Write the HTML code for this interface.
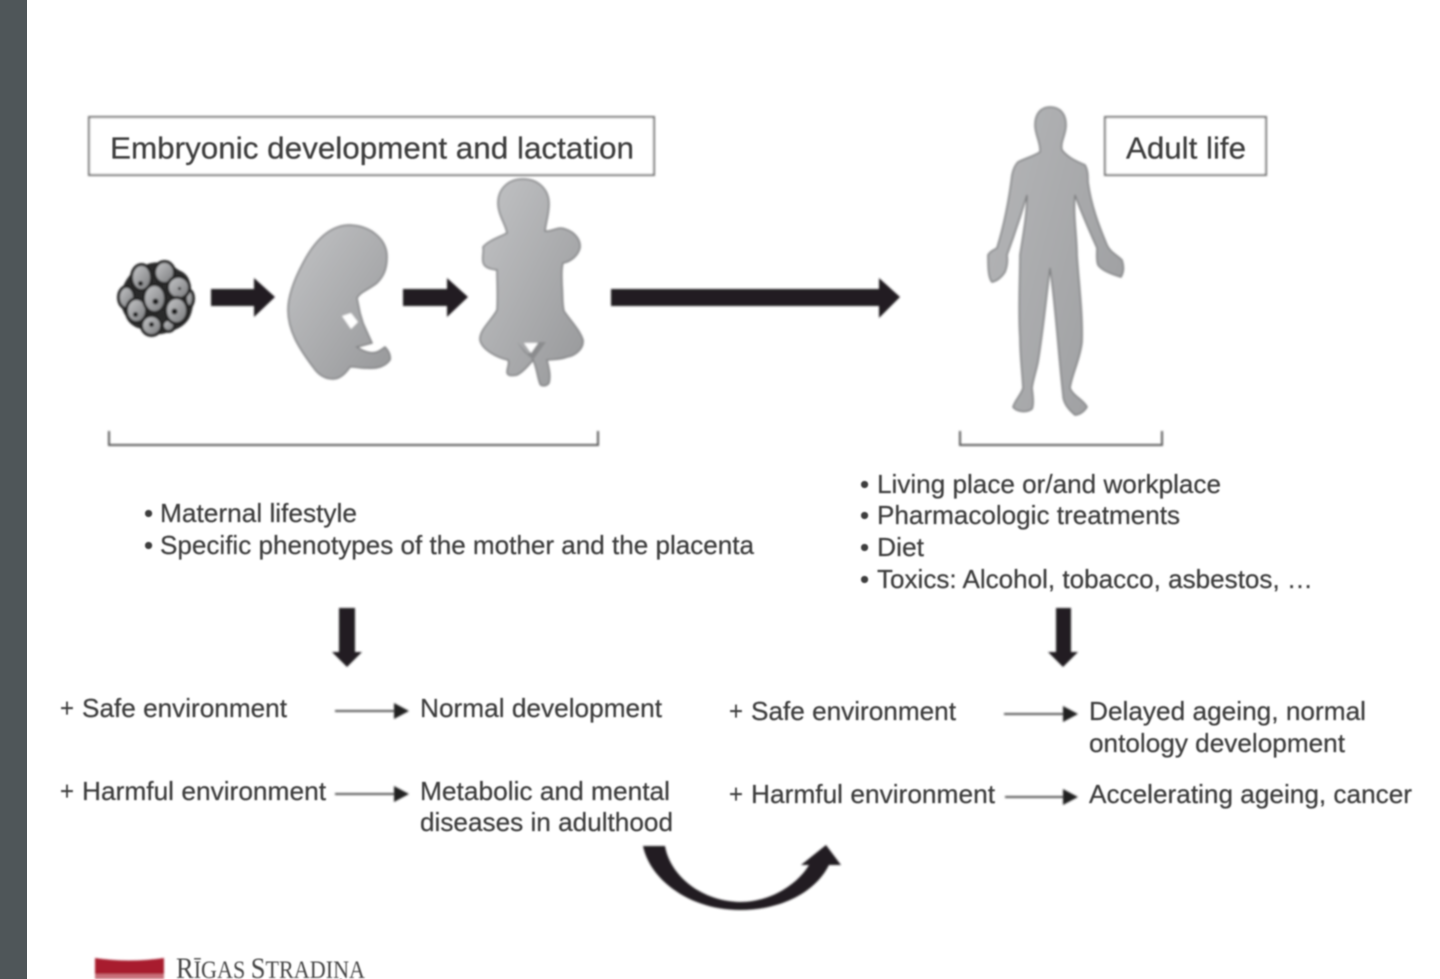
<!DOCTYPE html>
<html><head><meta charset="utf-8"><style>
html,body{margin:0;padding:0;background:#fff;width:1440px;height:979px;overflow:hidden}
svg{display:block}
text{font-family:"Liberation Sans",sans-serif;fill:#3c3c3c;font-size:27px;stroke:#3c3c3c;stroke-width:.25px}
.s{font-size:26px}
</style></head><body>
<svg width="1440" height="979" viewBox="0 0 1440 979" xmlns="http://www.w3.org/2000/svg">
<defs>
<filter id="b" x="-5%" y="-5%" width="110%" height="110%"><feGaussianBlur stdDeviation="1"/></filter>
<filter id="t" x="-5%" y="-20%" width="110%" height="140%"><feGaussianBlur stdDeviation="0.85"/></filter>
<linearGradient id="g" x1="0" y1="0" x2="1" y2="1"><stop offset="0" stop-color="#c2c3c5"/><stop offset="1" stop-color="#97989a"/></linearGradient>
<linearGradient id="a" x1="0" y1="0" x2="1" y2="0.6"><stop offset="0" stop-color="#b5b6b8"/><stop offset="1" stop-color="#a0a1a3"/></linearGradient>
<linearGradient id="c" x1="0" y1="0" x2="1" y2="1"><stop offset="0" stop-color="#c8c9cb"/><stop offset="1" stop-color="#77787a"/></linearGradient>
</defs>
<rect x="0" y="0" width="27" height="979" fill="#4f5659"/>
<g filter="url(#b)">
<rect x="89" y="117" width="565" height="58" fill="#fff" stroke="#6e6e6e" stroke-width="2"/>
<rect x="1105" y="117" width="161" height="58" fill="#fff" stroke="#6e6e6e" stroke-width="2"/>
<path d="M350 225C372 226 387 240 387 257C387 270 383 277 377 283C368 290 360 292 357 298L360 313L363 323L372 343L357 347C364 352 372 354 377 352C380 351 382 349 385 347C389 351 391 356 390 360C385 367 376 369 367 368C360 369 355 366 350 367C346 373 340 379 333 379C323 379 317 373 313 367C298 347 288 330 288 310C288 295 295 278 303 263C315 240 330 225 350 225Z" fill="url(#g)" stroke="#808183" stroke-width="1.5"/>
<path d="M342 316L351 313L358 322L351 329Z" fill="#fff"/>
<path d="M523 179C538 179 549 189 549 204C549 214 546 222 545 231C552 232 558 226 565 229C575 232 581 240 580 248C578 256 570 262 563 263C561 270 562 277 562 285C563 295 562 303 564 311C570 320 580 330 583 340C584 349 575 356 567 357C560 360 553 359 547 360C549 368 551 376 549 383C546 387 541 386 540 384C537 376 537 368 533 360C529 365 523 372 517 375C512 376 507 376 507 372C507 367 510 364 508 360C498 358 482 350 480 340C479 330 492 320 497 310C498 295 497 283 497 270C491 269 484 268 483 262C482 256 484 252 483 247C489 240 500 237 507 233C506 225 498 215 498 203C498 189 508 179 523 179Z" fill="url(#g)" stroke="#808183" stroke-width="1.5"/>
<path d="M517 342L528 354L539 342L546 342L533 360L524 352L519 345Z" fill="#8b8c8e"/>
<path d="M524 343L538 343L531 353Z" fill="#fff"/>
<path d="M1050 107C1061 107 1066 115 1066 125C1066 135 1060 142 1062 150C1068 158 1078 162 1085 165C1088 170 1088 176 1088 182C1091 205 1099 226 1107 245C1110 252 1117 255 1122 260C1124 266 1124 272 1121 277C1114 275 1102 271 1098 265C1096 260 1097 254 1097 248C1089 230 1081 212 1075 195C1073 215 1077 236 1077 255C1079 285 1083 315 1082 342C1080 360 1072 374 1070 388C1073 396 1084 400 1087 407C1084 412 1079 415 1075 415C1069 410 1063 403 1063 395C1058 350 1056 310 1050 268C1046 300 1043 332 1038 362C1036 372 1033 380 1032 388C1033 396 1034 404 1032 409C1026 413 1017 412 1013 407C1015 400 1021 395 1023 388C1022 370 1020 355 1020 338C1018 310 1020 282 1020 255C1023 235 1027 215 1027 195C1021 215 1014 236 1007 255C1008 262 1007 267 1005 272C1002 277 997 281 992 282C988 278 988 265 988 255C990 251 994 250 997 248C1004 225 1009 200 1012 175C1013 170 1015 165 1018 162C1026 158 1034 156 1040 152C1041 143 1035 135 1035 125C1035 115 1040 107 1050 107Z" fill="url(#a)" stroke="#7f8082" stroke-width="1.5"/>
<!-- morula -->
<g transform="translate(1.5 0.5)">
<path d="M155 262C166 261 172 266 178 270C186 273 189 280 189 287C193 296 192 309 188 317C184 325 176 329 168 331C160 335 150 335 143 329C133 328 126 322 124 315C118 306 118 293 122 285C126 276 132 269 142 266C146 263 150 262 155 262Z" fill="#2a2a2a"/>
<g fill="url(#c)" stroke="#262626" stroke-width="3">
<ellipse cx="188" cy="298" rx="4" ry="8"/><ellipse cx="167" cy="325" rx="6" ry="6"/>
<ellipse cx="163" cy="272" rx="10" ry="11"/><ellipse cx="140" cy="277" rx="10" ry="13"/><ellipse cx="177" cy="287" rx="11" ry="11"/>
<ellipse cx="125" cy="297" rx="8" ry="11"/><ellipse cx="135" cy="310" rx="10" ry="12"/><ellipse cx="150" cy="325" rx="10" ry="10"/>
<ellipse cx="175" cy="310" rx="11" ry="13"/><ellipse cx="153" cy="298" rx="11" ry="14"/>
</g>
<g fill="#1e1e1e"><circle cx="139" cy="283" r="2.5"/><circle cx="154" cy="301" r="3"/><circle cx="173" cy="311" r="3"/><circle cx="134" cy="314" r="2.5"/><circle cx="150" cy="324" r="2.5"/><circle cx="178" cy="288" r="1.5"/></g>
</g>
<g fill="#231f20">
<path d="M211 289H254V278L275 297L254 317V306H211Z"/>
<path d="M403 289H447V278L468 297L447 317V306H403Z"/>
<path d="M611 289H879V278L900 297L879 318V306H611Z"/>
<path d="M339 608H355V652H362L347 667L332 652H339Z"/>
<path d="M1056 608H1071V652H1078L1063 667L1048 652H1056Z"/>
<path d="M643 846H665C670 875 700 901 740 902C770 902 797 885 809 865H801L826 845L841 865H829C815 893 780 910 740 910C690 910 650 880 643 846Z"/>
</g>
<g fill="none" stroke="#5a5a5a" stroke-width="2">
<path d="M109 431V445H598V431"/>
<path d="M960 431V445H1162V431"/>
</g>
<g fill="none" stroke="#555" stroke-width="2">
<path d="M335 711H398"/><path d="M335 794H398"/><path d="M1004 714H1067"/><path d="M1005 797H1067"/>
</g>
<g fill="#222">
<path d="M394 703L409 711L394 719Z"/><path d="M394 786L409 794L394 802Z"/><path d="M1063 706L1078 714L1063 722Z"/><path d="M1063 789L1078 797L1063 805Z"/>
</g>
<!-- logo -->
<path d="M95 958Q129 963 164 958V979H95Z" fill="#a81f2d"/>
<rect x="95" y="974" width="69" height="5" fill="#c9707a"/>
</g>
<g filter="url(#t)">
<text x="110" y="158.5" style="font-size:31px" textLength="524" lengthAdjust="spacingAndGlyphs">Embryonic development and lactation</text>
<text x="1126" y="158.5" style="font-size:31px" textLength="120" lengthAdjust="spacingAndGlyphs">Adult life</text>

<text class="s" x="144" y="522" textLength="8">•</text>
<text class="s" x="160" y="522" textLength="197" lengthAdjust="spacingAndGlyphs">Maternal lifestyle</text>
<text class="s" x="144" y="554" textLength="8">•</text>
<text class="s" x="160" y="554" textLength="594" lengthAdjust="spacingAndGlyphs">Specific phenotypes of the mother and the placenta</text>

<text class="s" x="860" y="493" textLength="8">•</text>
<text class="s" x="877" y="493" textLength="344" lengthAdjust="spacingAndGlyphs">Living place or/and workplace</text>
<text class="s" x="860" y="524" textLength="8">•</text>
<text class="s" x="877" y="524" textLength="303" lengthAdjust="spacingAndGlyphs">Pharmacologic treatments</text>
<text class="s" x="860" y="556" textLength="8">•</text>
<text class="s" x="877" y="556" textLength="47" lengthAdjust="spacingAndGlyphs">Diet</text>
<text class="s" x="860" y="588" textLength="8">•</text>
<text class="s" x="877" y="588" textLength="436" lengthAdjust="spacingAndGlyphs">Toxics: Alcohol, tobacco, asbestos, …</text>

<text class="s" x="60" y="717" textLength="14" lengthAdjust="spacingAndGlyphs">+</text>
<text class="s" x="82" y="717" textLength="205" lengthAdjust="spacingAndGlyphs">Safe environment</text>
<text class="s" x="420" y="717" textLength="242" lengthAdjust="spacingAndGlyphs">Normal development</text>
<text class="s" x="60" y="800" textLength="14" lengthAdjust="spacingAndGlyphs">+</text>
<text class="s" x="82" y="800" textLength="244" lengthAdjust="spacingAndGlyphs">Harmful environment</text>
<text class="s" x="420" y="800" textLength="250" lengthAdjust="spacingAndGlyphs">Metabolic and mental</text>
<text class="s" x="420" y="831" textLength="253" lengthAdjust="spacingAndGlyphs">diseases in adulthood</text>

<text class="s" x="729" y="720" textLength="14" lengthAdjust="spacingAndGlyphs">+</text>
<text class="s" x="751" y="720" textLength="205" lengthAdjust="spacingAndGlyphs">Safe environment</text>
<text class="s" x="1089" y="720" textLength="277" lengthAdjust="spacingAndGlyphs">Delayed ageing, normal</text>
<text class="s" x="1089" y="752" textLength="256" lengthAdjust="spacingAndGlyphs">ontology development</text>
<text class="s" x="729" y="803" textLength="14" lengthAdjust="spacingAndGlyphs">+</text>
<text class="s" x="751" y="803" textLength="244" lengthAdjust="spacingAndGlyphs">Harmful environment</text>
<text class="s" x="1089" y="803" textLength="323" lengthAdjust="spacingAndGlyphs">Accelerating ageing, cancer</text>

<text x="176" y="978" style="font-family:'Liberation Serif',serif;font-size:30px;fill:#444;stroke:none" textLength="189" lengthAdjust="spacingAndGlyphs">R<tspan style="font-size:25px">ĪGAS </tspan>S<tspan style="font-size:25px">TRADIŅA</tspan></text>
</g>
</svg>
</body></html>
